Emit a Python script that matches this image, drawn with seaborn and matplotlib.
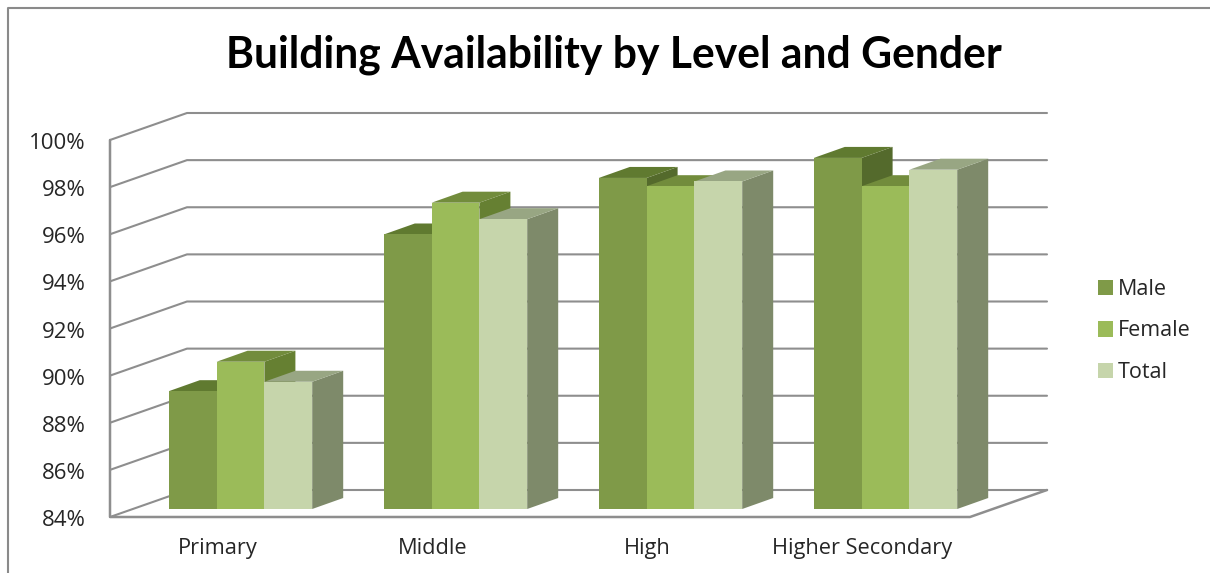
import matplotlib
matplotlib.use("Agg")
import matplotlib.pyplot as plt
from matplotlib.patches import Polygon
from matplotlib.lines import Line2D
from matplotlib.transforms import Affine2D
import pandas as pd
import seaborn as sns

# Values
levels = ["Primary", "Middle", "High", "Higher Secondary"]
male = [89.0, 95.65, 98.05, 98.9]
female = [90.25, 97.0, 97.7, 97.7]
total = [89.4, 96.3, 97.9, 98.4]
genders = ["Male", "Female", "Total"]
ticks = [84, 86, 88, 90, 92, 94, 96, 98, 100]

W, H = 1210, 573
GRID = "#8e8e8e"
TEXT = "#262626"

# front / top / side shade of each series
front = {"Male": "#7f9a48", "Female": "#9bbb59", "Total": "#c6d5ab"}
top_face = {"Male": "#607a30", "Female": "#728c3c", "Total": "#98a683"}
side_face = {"Male": "#546a2c", "Female": "#668032", "Total": "#7e8a6a"}

df = pd.DataFrame({
    "Level": levels * 3,
    "Gender": [g for g in genders for _ in levels],
    "Value": male + female + total,
})

sns.set_theme(style="white")
plt.rcParams["font.family"] = ["Open Sans", "DejaVu Sans"]

fig = plt.figure(figsize=(W / 100, H / 100), dpi=100)
# axes box = plane of the bar fronts, the walls are offset from it in pixels
ax = fig.add_axes([133 / W, 1 - 509 / H, 860 / W, 377 / H])
sns.barplot(data=df, x="Level", y="Value", hue="Gender", hue_order=genders,
            order=levels, palette=front, width=0.667, gap=0, saturation=1,
            linewidth=0, edgecolor="none", legend=False, ax=ax)
ax.set_xlim(-0.5, 3.5)
ax.set_ylim(84, 100)
ax.set_xlabel("")
ax.set_ylabel("")
ax.patch.set_visible(False)
sns.despine(ax=ax, left=True, bottom=True, top=True, right=True)


def px(x, y, dx=0, dy=0):
    a, b = ax.transData.transform((x, y))
    return (a + dx, b + dy)


def pixel_line(pts, **kw):
    ax.add_line(Line2D([p[0] for p in pts], [p[1] for p in pts],
                       transform=Affine2D(), clip_on=False, **kw))


# offsets of the front wall and back wall from the bar plane
fx, fy = -23, -8
bx, by = 54, 19
x0, x1 = ax.get_xlim()

# walls and gridlines
for v in ticks:
    pixel_line([px(x0, v, fx, fy), px(x0, v, bx, by), px(x1, v, bx, by)],
               color=GRID, lw=1.5, zorder=0.5)
pixel_line([px(x0, 100, fx, fy), px(x0, 84, fx, fy), px(x1, 84, fx, fy), px(x1, 84, bx, by)],
           color=GRID, lw=1.8, zorder=0.6)

# depth of the bars, painted from left to right
dx, dy = 31, 11
bars = []
for gender, cont in zip(genders, ax.containers):
    for b in cont:
        bars.append((b.get_x(), gender, b))
z = 3
for _, gender, b in sorted(bars, key=lambda t: t[0]):
    xa = b.get_x()
    xb = xa + b.get_width()
    v = b.get_height()
    top = [px(xa, v), px(xb, v), px(xb, v, dx, dy), px(xa, v, dx, dy)]
    side = [px(xb, 84), px(xb, v), px(xb, v, dx, dy), px(xb, 84, dx, dy)]
    ax.add_patch(Polygon(side, closed=True, fc=side_face[gender], ec="none",
                         transform=Affine2D(), clip_on=False, zorder=z))
    ax.add_patch(Polygon(top, closed=True, fc=top_face[gender], ec="none",
                         transform=Affine2D(), clip_on=False, zorder=z + 0.1))
    b.set_zorder(z + 0.2)
    z += 1

# tick labels sit on the front wall, not on the bar plane
ax.set_yticks(ticks)
ax.set_yticklabels([f"{t}%" for t in ticks], fontsize=16, color=TEXT)
ax.tick_params(axis="y", length=0, pad=34)
for lab in ax.get_yticklabels():
    lab.set_transform(lab.get_transform() + Affine2D().translate(0, -9))
ax.tick_params(axis="x", length=0, pad=21)
for lab in ax.get_xticklabels():
    lab.set_fontsize(15.7)
    lab.set_color(TEXT)
    lab.set_transform(lab.get_transform() + Affine2D().translate(-23, 0))

# outer frame, open on the right and bottom
fig.add_artist(Line2D([7.5 / W, 7.5 / W, 1], [0, 1 - 8 / H, 1 - 8 / H], color="#8a8a8a", lw=1.5))

fig.text(614 / W, 1 - 55 / H, "Building Availability by Level and Gender", ha="center", va="center",
         fontsize=30.7, fontweight="bold", color="black", family=["Lato", "DejaVu Sans"])

handles = [plt.Rectangle((0, 0), 1, 1, fc=front[g], ec="none") for g in genders]
ax.legend(handles, genders, loc="center left", bbox_to_anchor=(1098 / W, 1 - 331 / H),
          bbox_transform=fig.transFigure, frameon=False, fontsize=15.5, labelcolor=TEXT,
          handlelength=0.7, handleheight=0.7, handletextpad=0.22, labelspacing=0.95,
          borderpad=0, borderaxespad=0)

fig.savefig("out.png", dpi=100)
